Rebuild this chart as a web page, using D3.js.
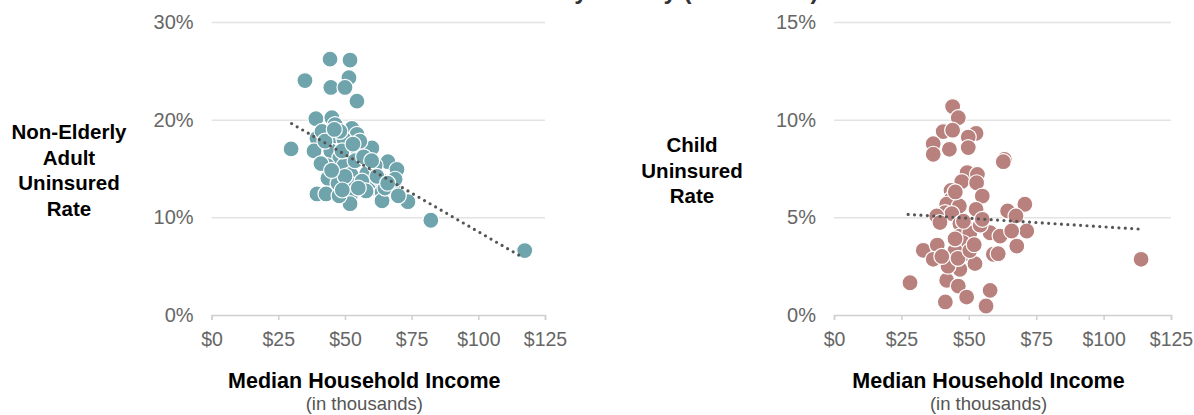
<!DOCTYPE html>
<html>
<head>
<meta charset="utf-8">
<script src="https://cdn.jsdelivr.net/npm/d3@7"></script>
<style>
  html, body { margin: 0; padding: 0; background: #fff; }
  svg { display: block; font-family: Helvetica, Arial, "Liberation Sans", sans-serif; }
</style>
</head>
<body>
<svg id="chart" width="1194" height="415"></svg>
<script>
// ---- Data ----
const titleText = "Uninsured Rate by County (2011–2015)";

// Non-elderly adult: median household income ($K) and uninsured rate (%)
const adultIncome = [29.8,35.0,44.4,51.9,51.5,44.7,50.0,54.5,39.1,45.1,46.3,52.6,54.5,45.5,39.5,49.6,41.4,48.1,38.4,44.7,54.9,60.1,48.1,43.3,49.7,52.2,58.2,66.1,69.5,43.6,47.4,51.9,60.5,63.9,68.0,39.5,42.9,51.9,73.6,63.9,51.9,82.2,117.4,56.4,61.3,55.6,42.5,48.9,53.8,68.8,63.2,57.9,47.8,50.0,65.0,70.0,46.0,53.0,57.0,41.0,45.0,55.0,62.0,49.0,60.0,66.0];
const adultRate   = [17.0,24.0,26.2,26.1,24.3,23.3,23.3,21.9,20.1,20.2,19.5,19.1,18.5,18.3,18.1,18.0,18.8,18.8,16.8,16.8,16.8,17.1,16.1,15.3,15.3,14.4,14.5,15.7,14.9,14.0,13.5,13.4,13.0,12.6,13.2,12.4,12.4,12.0,11.6,11.7,11.4,9.7,6.6,13.7,15.3,17.8,17.8,16.8,15.8,13.9,13.9,12.7,12.2,14.2,13.0,12.2,19.0,17.5,16.2,15.5,14.8,13.0,14.2,12.8,15.8,13.5];

// Child: median household income ($K) and uninsured rate (%)
const childIncome = [44.0,46.1,40.5,44.0,52.7,49.8,36.8,36.8,42.8,49.8,63.2,62.8,49.4,53.2,47.4,52.9,43.4,55.0,43.4,41.8,46.5,41.2,43.7,52.7,38.1,39.3,46.7,50.2,70.8,64.4,67.5,71.5,57.9,61.6,65.9,33.1,38.3,36.8,43.0,48.6,52.3,46.7,41.8,46.1,28.2,57.9,49.2,41.3,56.4,59.1,60.9,67.8,113.9,46.7,50.4,47.8,44.9,42.3,46.0,50.4,44.9,54.2,40.0,52.0,48.0,55.0,45.0];
const childRate   = [10.67,10.10,9.39,9.46,9.30,9.11,8.77,8.23,8.48,8.57,7.97,7.85,7.29,7.20,6.83,6.77,6.38,6.09,5.92,5.67,5.58,5.24,5.19,5.41,5.07,4.73,4.67,4.39,5.67,5.33,5.07,4.30,4.21,4.04,4.30,3.31,3.58,2.85,2.93,3.14,2.63,2.34,1.78,1.48,1.65,1.26,0.92,0.67,0.46,3.11,3.14,3.53,2.85,4.04,4.21,3.70,3.30,2.50,2.90,3.30,3.90,4.60,3.00,3.60,4.80,4.90,6.30];

// Trend lines (endpoints)
const adultTrendX = [30, 116];
const adultTrendY = [19.6, 6.0];
const childTrendX = [27.5, 113];
const childTrendY = [5.15, 4.4];

// Axes
const xTicks = [0, 25, 50, 75, 100, 125];
const adultYTicks = [0, 10, 20, 30];
const childYTicks = [0, 5, 10, 15];
const xTitle = "Median Household Income";
const xSubtitle = "(in thousands)";
const adultYLabel = ["Non-Elderly", "Adult", "Uninsured", "Rate"];
const childYLabel = ["Child", "Uninsured", "Rate"];

// ---- Drawing ----
const svg = d3.select("#chart");

svg.append("text")
  .attr("x", 597).attr("y", -1)
  .attr("text-anchor", "middle")
  .attr("font-size", 24).attr("font-weight", "bold")
  .attr("fill", "#333")
  .text(titleText);

function panel(opts) {
  const x = d3.scaleLinear().domain([0, 125]).range([opts.x0, opts.x1]);
  const y = d3.scaleLinear().domain([0, opts.yMax]).range([315, 22]);
  const g = svg.append("g");

  // y axis / gridlines
  const yAxis = d3.axisLeft(y)
    .tickValues(opts.yTicks)
    .tickSize(-(opts.x1 - opts.x0))
    .tickPadding(18)
    .tickFormat(d => d + "%");
  const yg = g.append("g").attr("transform", `translate(${opts.x0},0)`).call(yAxis);
  yg.select(".domain").remove();
  yg.selectAll(".tick line")
    .attr("stroke", d => d === 0 ? "none" : "#e3e3e3")
    .attr("stroke-width", 1.5);
  yg.selectAll(".tick text")
    .attr("font-size", 20).attr("fill", "#666")
    .attr("font-family", "Helvetica, Arial, 'Liberation Sans', sans-serif");

  // x axis
  const xAxis = d3.axisBottom(x)
    .tickValues(xTicks)
    .tickSize(5)
    .tickPadding(12)
    .tickFormat(d => "$" + d);
  const xg = g.append("g").attr("transform", `translate(0,315)`).call(xAxis);
  xg.select(".domain").attr("stroke", "#cfcfcf").attr("stroke-width", 1.5);
  xg.selectAll(".tick line").attr("stroke", "#cfcfcf").attr("stroke-width", 1.5);
  xg.selectAll(".tick text")
    .attr("font-size", 19.5).attr("fill", "#666")
    .attr("font-family", "Helvetica, Arial, 'Liberation Sans', sans-serif");

  // points
  const pts = opts.xs.map((v, i) => ({ x: v, y: opts.ys[i] }));
  g.append("g").selectAll("circle")
    .data(pts).join("circle")
    .attr("cx", d => x(d.x)).attr("cy", d => y(d.y))
    .attr("r", 8)
    .attr("fill", opts.color)
    .attr("stroke", "#fff").attr("stroke-width", 1.2);

  // trend line
  const line = d3.line().x(d => x(d[0])).y(d => y(d[1]));
  g.append("path")
    .datum(opts.tx.map((v, i) => [v, opts.ty[i]]))
    .attr("d", line)
    .attr("fill", "none")
    .attr("stroke", "#555")
    .attr("stroke-width", 3.2)
    .attr("stroke-linecap", "round")
    .attr("stroke-dasharray", "0,6.4");

  // x axis titles
  const cx = (opts.x0 + opts.x1) / 2 - 14;
  g.append("text")
    .attr("x", cx).attr("y", 388)
    .attr("text-anchor", "middle")
    .attr("font-size", 21.5).attr("font-weight", "bold").attr("fill", "#000")
    .text(xTitle);
  g.append("text")
    .attr("x", cx).attr("y", 410)
    .attr("text-anchor", "middle")
    .attr("font-size", 18.5).attr("fill", "#555")
    .text(xSubtitle);

  // y label
  const yl = g.append("text")
    .attr("text-anchor", "middle")
    .attr("font-size", 20.5).attr("font-weight", "bold").attr("fill", "#000");
  opts.yLabel.forEach((t, i) => {
    yl.append("tspan").attr("x", opts.ylx).attr("y", opts.yly + i * 25.5).text(t);
  });
}

panel({
  x0: 211.6, x1: 545, yMax: 30, yTicks: adultYTicks,
  xs: adultIncome, ys: adultRate, color: "#6fa4ac",
  tx: adultTrendX, ty: adultTrendY,
  yLabel: adultYLabel, ylx: 69, yly: 139
});

panel({
  x0: 834, x1: 1171, yMax: 15, yTicks: childYLabel ? childYTicks : childYTicks,
  xs: childIncome, ys: childRate, color: "#b8817d",
  tx: childTrendX, ty: childTrendY,
  yLabel: childYLabel, ylx: 692, yly: 152
});
</script>
</body>
</html>
